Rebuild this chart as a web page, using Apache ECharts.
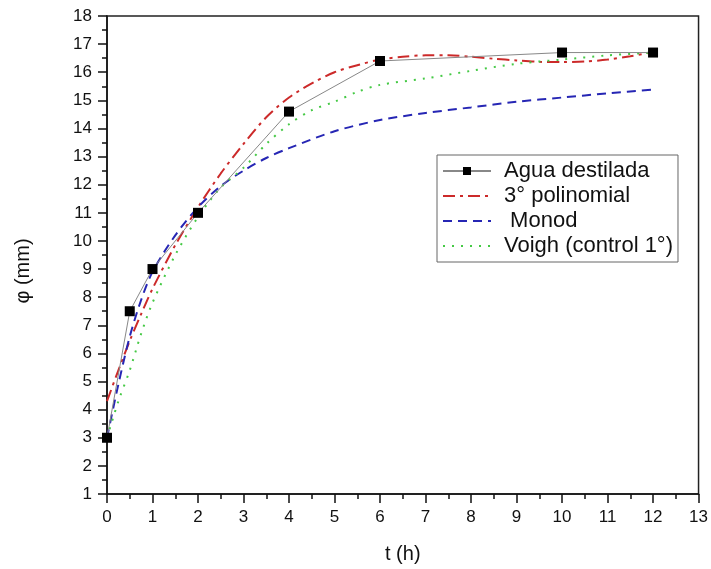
<!DOCTYPE html>
<html><head><meta charset="utf-8">
<script src="https://cdn.jsdelivr.net/npm/echarts@6/dist/echarts.min.js"></script>
<style>html,body{margin:0;padding:0;background:#fff}#c{width:711px;height:569px}</style>
</head><body><div id="c"></div>
<script>
// Experimental data
const aguaT = [0, 0.5, 1, 2, 4, 6, 10, 12];
const aguaY = [3.0, 7.5, 9.0, 11.0, 14.6, 16.4, 16.7, 16.7];
// 3° polinomial fit
const polyT = [0, 0.25, 0.5, 0.75, 1, 1.5, 2, 2.5, 3, 3.5, 4, 4.5, 5, 5.5, 6, 6.5, 7, 7.5, 8, 8.5, 9, 9.5, 10, 10.5, 11, 11.5, 12];
const polyY = [4.3, 5.4, 6.45, 7.4, 8.3, 9.85, 11.2, 12.4, 13.45, 14.4, 15.1, 15.6, 16.0, 16.25, 16.45, 16.55, 16.6, 16.6, 16.55, 16.48, 16.42, 16.37, 16.36, 16.38, 16.45, 16.57, 16.72];
// Monod fit
const monodT = [0, 0.25, 0.5, 0.75, 1, 1.5, 2, 2.5, 3, 3.5, 4, 5, 6, 7, 8, 9, 10, 11, 12];
const monodY = [3.0, 4.9, 6.6, 7.9, 8.9, 10.2, 11.2, 11.95, 12.5, 12.95, 13.3, 13.9, 14.3, 14.55, 14.75, 14.95, 15.1, 15.25, 15.38];
// Voigh fit
const voighT = [0, 0.25, 0.5, 0.75, 1, 1.5, 2, 2.5, 3, 3.5, 4, 4.5, 5, 5.5, 6, 7, 8, 9, 10, 11, 12];
const voighY = [3.0, 4.3, 5.4, 6.7, 7.8, 9.5, 10.85, 11.9, 12.6, 13.45, 14.15, 14.65, 14.95, 15.3, 15.55, 15.78, 16.05, 16.3, 16.45, 16.6, 16.7];
const seriesNames = ['Agua destilada', '3° polinomial', ' Monod', 'Voigh (control 1°)'];

const zip = (a, b) => a.map((v, i) => [v, b[i]]);
const FONT = 'Liberation Sans, Arial, sans-serif';
const chart = echarts.init(document.getElementById('c'), null, {renderer: 'canvas'});
chart.setOption({
  animation: false,
  backgroundColor: '#fff',
  grid: {left: 107, right: 11, top: 16, bottom: 73, show: true, borderColor: '#222', borderWidth: 1.5, containLabel: false},
  legend: {
    orient: 'vertical', left: 437, top: 155,
    itemWidth: 48, itemHeight: 10, itemGap: 3,
    padding: [5, 5, 5, 5],
    borderColor: '#666', borderWidth: 1,
    textStyle: {fontSize: 22, color: '#111', fontFamily: FONT, padding: [0, 0, 0, 8]},
    data: [
      {name: seriesNames[0]},
      {name: seriesNames[1], itemStyle: {opacity: 0}},
      {name: seriesNames[2], itemStyle: {opacity: 0}},
      {name: seriesNames[3], itemStyle: {opacity: 0}}
    ]
  },
  xAxis: {
    type: 'value', min: 0, max: 13, interval: 1,
    name: 't (h)', nameLocation: 'middle', nameGap: 50,
    nameTextStyle: {fontSize: 20, color: '#111', fontFamily: FONT},
    axisLine: {lineStyle: {color: '#111', width: 1.5}},
    axisTick: {show: true, inside: false, length: 9, lineStyle: {color: '#111', width: 1.5}},
    minorTick: {show: true, splitNumber: 2, length: 5, lineStyle: {color: '#111', width: 1.5}},
    axisLabel: {fontSize: 17, color: '#111', fontFamily: FONT, margin: 15},
    splitLine: {show: false}
  },
  yAxis: {
    type: 'value', min: 1, max: 18, interval: 1,
    name: 'φ (mm)', nameLocation: 'middle', nameGap: 74,
    nameTextStyle: {fontSize: 20, color: '#111', fontFamily: FONT, padding: [0, 32, 0, 0]},
    axisLine: {lineStyle: {color: '#111', width: 1.5}},
    axisTick: {show: true, inside: false, length: 9, lineStyle: {color: '#111', width: 1.5}},
    minorTick: {show: true, splitNumber: 2, length: 5, lineStyle: {color: '#111', width: 1.5}},
    axisLabel: {fontSize: 17, color: '#111', fontFamily: FONT, margin: 15},
    splitLine: {show: false}
  },
  series: [
    {
      name: seriesNames[1], type: 'line', data: zip(polyT, polyY), smooth: 0.3,
      symbol: 'none', lineStyle: {color: '#cc2a2a', width: 2, type: [12, 5, 3, 5]},
      itemStyle: {color: '#cc2a2a'}, z: 3
    },
    {
      name: seriesNames[2], type: 'line', data: zip(monodT, monodY), smooth: 0.3,
      symbol: 'none', lineStyle: {color: '#2626b4', width: 2, type: [9, 6]},
      itemStyle: {color: '#2626b4'}, z: 3
    },
    {
      name: seriesNames[3], type: 'line', data: zip(voighT, voighY), smooth: 0.3,
      symbol: 'none', lineStyle: {color: '#45c945', width: 2, type: [2, 7]},
      itemStyle: {color: '#45c945'}, z: 3
    },
    {
      name: seriesNames[0], type: 'line', data: zip(aguaT, aguaY),
      symbol: 'rect', symbolSize: 10,
      lineStyle: {color: '#888', width: 1},
      itemStyle: {color: '#000', borderWidth: 0}, z: 4
    }
  ]
});
</script></body></html>
